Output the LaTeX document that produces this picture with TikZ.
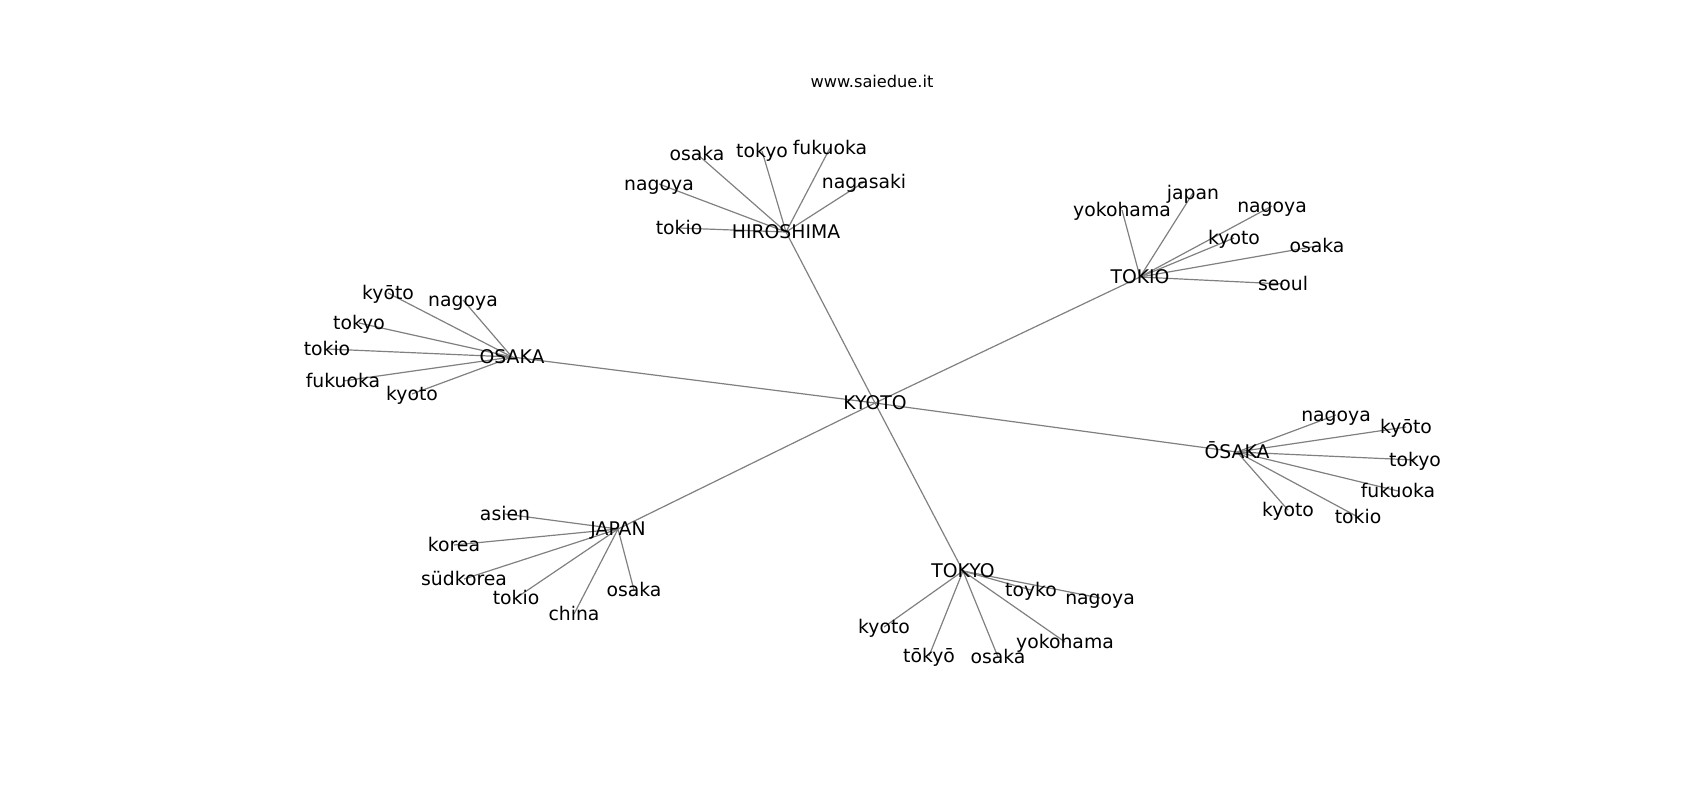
\documentclass[tikz,border=0pt]{standalone}
\usepackage{fontspec}
\setmainfont{DejaVu Sans}
\usetikzlibrary{backgrounds}

\tikzset{
  city/.style={inner sep=0pt, text height=13.9bp, text depth=0pt,
    font=\fontsize{18.8bp}{22bp}\selectfont},
  link/.style={draw=black!50, line width=1.2bp}
}

\begin{document}
\begin{tikzpicture}[x=1bp,y=-1bp]
        \useasboundingbox (0,0) rectangle (1700,800);
        \node[anchor=base, font=\fontsize{16.2bp}{19bp}\selectfont] (title) at (872,87.7) {www.saiedue.it};
        % hubs
        \node[city] (kyoto) at (875,403) {KYOTO};
        \node[city] (hiro) at (786,232) {HIROSHIMA};
        \node[city] (tokio) at (1140,277) {TOKIO};
        \node[city] (osaka) at (512,357) {OSAKA};
        \node[city] (oosaka) at (1237,452) {ŌSAKA};
        \node[city] (japan) at (618,529) {JAPAN};
        \node[city] (tokyo) at (963,571) {TOKYO};
        % hiroshima
        \node[city] (h1) at (679,228) {tokio};
        \node[city] (h2) at (659,184) {nagoya};
        \node[city] (h3) at (697,154) {osaka};
        \node[city] (h4) at (762,151) {tokyo};
        \node[city] (h5) at (830,148) {fukuoka};
        \node[city] (h6) at (864,182) {nagasaki};
        % tokio
        \node[city] (t1) at (1122,210) {yokohama};
        \node[city] (t2) at (1193,193) {japan};
        \node[city] (t3) at (1272,206) {nagoya};
        \node[city] (t4) at (1234,238) {kyoto};
        \node[city] (t5) at (1317,246) {osaka};
        \node[city] (t6) at (1283,284) {seoul};
        % osaka
        \node[city] (o1) at (388,293) {kyōto};
        \node[city] (o2) at (463,300) {nagoya};
        \node[city] (o3) at (359,323) {tokyo};
        \node[city] (o4) at (327,349) {tokio};
        \node[city] (o5) at (343,381) {fukuoka};
        \node[city] (o6) at (412,394) {kyoto};
        % oosaka
        \node[city] (s1) at (1336,415) {nagoya};
        \node[city] (s2) at (1406,427) {kyōto};
        \node[city] (s3) at (1415,460) {tokyo};
        \node[city] (s4) at (1398,491) {fukuoka};
        \node[city] (s5) at (1288,510) {kyoto};
        \node[city] (s6) at (1358,517) {tokio};
        % japan
        \node[city] (j1) at (505,514) {asien};
        \node[city] (j2) at (454,545) {korea};
        \node[city] (j3) at (464,579) {südkorea};
        \node[city] (j4) at (516,598) {tokio};
        \node[city] (j5) at (574,614) {china};
        \node[city] (j6) at (634,590) {osaka};
        % tokyo
        \node[city] (k1) at (1031,590) {toyko};
        \node[city] (k2) at (1100,598) {nagoya};
        \node[city] (k3) at (884,627) {kyoto};
        \node[city] (k4) at (929,656) {tōkyō};
        \node[city] (k5) at (998,657) {osaka};
        \node[city] (k6) at (1065,642) {yokohama};
        % edges
        \begin{scope}[on background layer]
          \foreach \hub in {hiro,tokio,osaka,oosaka,japan,tokyo}
            \draw[link] (kyoto.center) -- (\hub.center);
          \foreach \i in {1,...,6} {
            \draw[link] (hiro.center) -- (h\i.center);
            \draw[link] (tokio.center) -- (t\i.center);
            \draw[link] (osaka.center) -- (o\i.center);
            \draw[link] (oosaka.center) -- (s\i.center);
            \draw[link] (japan.center) -- (j\i.center);
            \draw[link] (tokyo.center) -- (k\i.center);
          }
        \end{scope}
\end{tikzpicture}
\end{document}
